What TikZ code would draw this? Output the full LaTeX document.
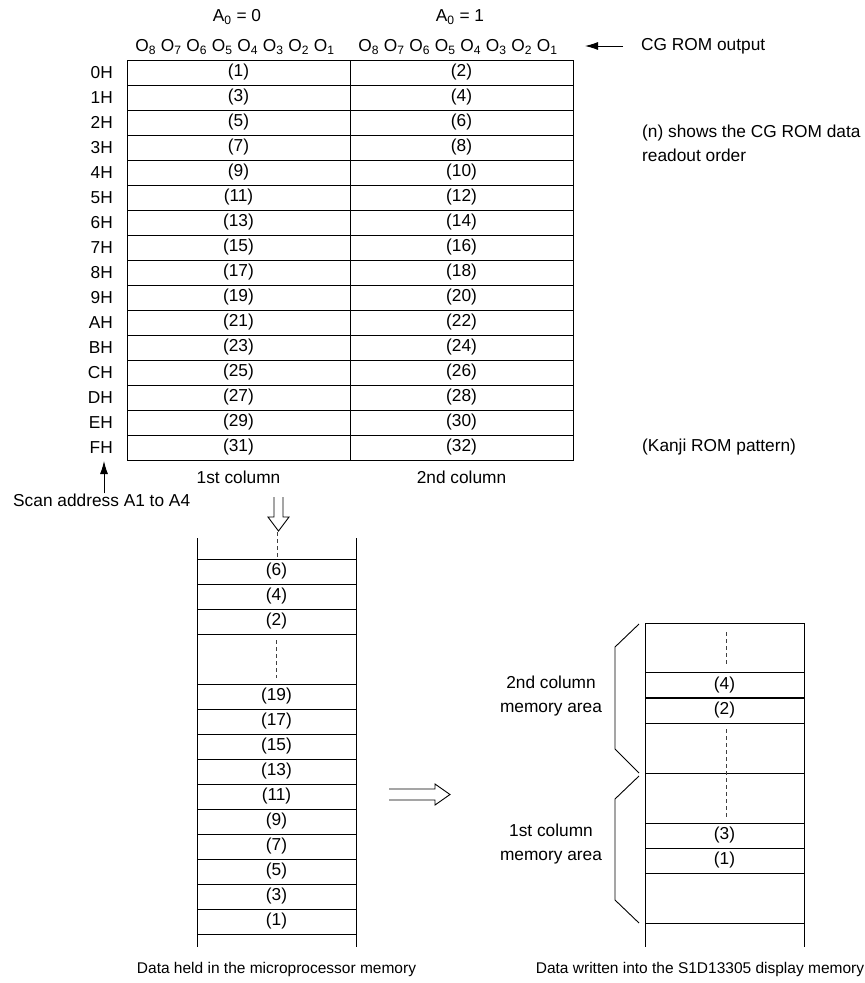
\documentclass[tikz,border=0pt]{standalone}
\usepackage{fontspec}
\setmainfont{Liberation Sans}
\usetikzlibrary{arrows.meta,positioning}

\newcommand{\obits}{O\textsubscript{8} O\textsubscript{7} O\textsubscript{6} O\textsubscript{5} O\textsubscript{4} O\textsubscript{3} O\textsubscript{2} O\textsubscript{1}}

\begin{document}
\begin{tikzpicture}[x=1pt, y=-1pt,
    font=\fontsize{17.3}{24}\selectfont,
    cellbox/.style={rectangle, draw, line width=0.9pt, minimum width=223pt,
                    minimum height=25pt, inner sep=0pt},
    rowbox/.style={rectangle, draw, line width=0.9pt, minimum width=159pt,
                   minimum height=25pt, inner sep=0pt},
    lbl/.style={anchor=west, inner sep=0pt, align=left},
    caption/.style={font=\fontsize{15.5}{20}\selectfont},
    wall/.style={line width=0.9pt},
    gapline/.style={line width=0.9pt, black!75, dash pattern=on 4pt off 3pt},
    arr/.style={-{Latex[length=13pt,width=8pt]}, line width=0.9pt},
    hollow/.style={line width=0.9pt, line join=miter}
  ]
    \useasboundingbox (0,0) rectangle (865,983);

    % Column headers
    \node (a0) at (237,17) {A\textsubscript{0} = 0};
    \node (a1) at (460,17) {A\textsubscript{0} = 1};
    \node (bits1) at (235,47) {\obits};
    \node (bits2) at (458,47) {\obits};

    % CG ROM table
    \foreach \h [count=\k from 0] in {0,1,2,3,4,5,6,7,8,9,A,B,C,D,E,F} {
      \pgfmathtruncatemacro{\odd}{2*\k+1}
      \pgfmathtruncatemacro{\even}{2*\k+2}
      \node[cellbox] (rom1-\k) at (238.5,72.5+25*\k) {(\odd)};
      \node[cellbox] (rom2-\k) at (461.5,72.5+25*\k) {(\even)};
      \node[anchor=east, inner sep=0pt] (adr-\k) at (113,72.5+25*\k) {\h H};
    }
    \node (col1) at (238.5,477) {1st column};
    \node (col2) at (461.5,477) {2nd column};

    % CG ROM output
    \node[lbl] (cgout) at (641,46) {CG ROM output};
    \coordinate (cgtip) at (585,46);
    \draw[arr] ([xshift=-18pt]cgout.west) -- (cgtip);

    % Notes
    \node[lbl] (order) at (642,143.5) {(n) shows the CG ROM data\\readout order};
    \node[lbl] (kanji) at (642,447) {(Kanji ROM pattern)};

    % Scan address
    \node[lbl] (scan) at (13,500) {Scan address A1 to A4};
    \coordinate (scantip) at (104,461);
    \draw[arr] (scantip |- scan.north) -- (scantip);

    % Hollow arrow down
    \draw[hollow] (274,497) -- (274,517) -- (268,517) -- (278.5,531)
      -- (289,517) -- (283,517) -- (283,497);

    % Microprocessor memory
    \draw[wall] (197,538) -- (197,947);
    \draw[wall] (356,538) -- (356,947);
    \node[rowbox] (m6) at (276.5,571.5) {(6)};
    \node[rowbox] (m4) at (276.5,596.5) {(4)};
    \node[rowbox] (m2) at (276.5,621.5) {(2)};
    \foreach \n [count=\i from 0] in {19,17,...,1}
      \node[rowbox] (m\n) at (276.5,696.5+25*\i) {(\n)};
    \draw[gapline] (277,532) -- (m6.north -| 277,0);
    \draw[gapline] ([yshift=-6pt]m2.south) -- ([yshift=6pt]m19.north);
    \node[caption] (cap1) at (276.5,969) {Data held in the microprocessor memory};

    % Hollow arrow right
    \draw[hollow] (389,789) -- (435,789) -- (435,784) -- (450,794.5)
      -- (435,805) -- (435,800) -- (389,800);

    % Display memory
    \draw[wall] (645,623) -- (645,947);
    \draw[wall] (804,623) -- (804,947);
    \draw[wall] (645,623) -- (804,623);
    \node[rowbox] (d4) at (724.5,685) {(4)};
    \node[rowbox] (d2) at (724.5,710.5) {(2)};
    \draw[wall] (645,773) -- (804,773);
    \node[rowbox] (d3) at (724.5,835.5) {(3)};
    \node[rowbox] (d1) at (724.5,860.5) {(1)};
    \draw[wall] (645,923) -- (804,923);
    \draw[gapline] (726,632) -- ([yshift=7pt]d4.north -| 726,0);
    \draw[gapline] ([yshift=-6pt]d2.south -| 726,0) -- ([yshift=5pt]d3.north -| 726,0);
    \node[caption] (cap2) at (700,969) {Data written into the S1D13305 display memory};

    % Memory area braces
    \draw[wall] (639,624) -- (615,647) -- (615,749) -- (639,773);
    \draw[wall] (639,776) -- (615,799) -- (615,900) -- (639,923);
    \node[align=center] (area2) at (551,696.5) {2nd column\\memory area};
    \node[align=center] (area1) at (551,844.5) {1st column\\memory area};
  \end{tikzpicture}
\end{document}
